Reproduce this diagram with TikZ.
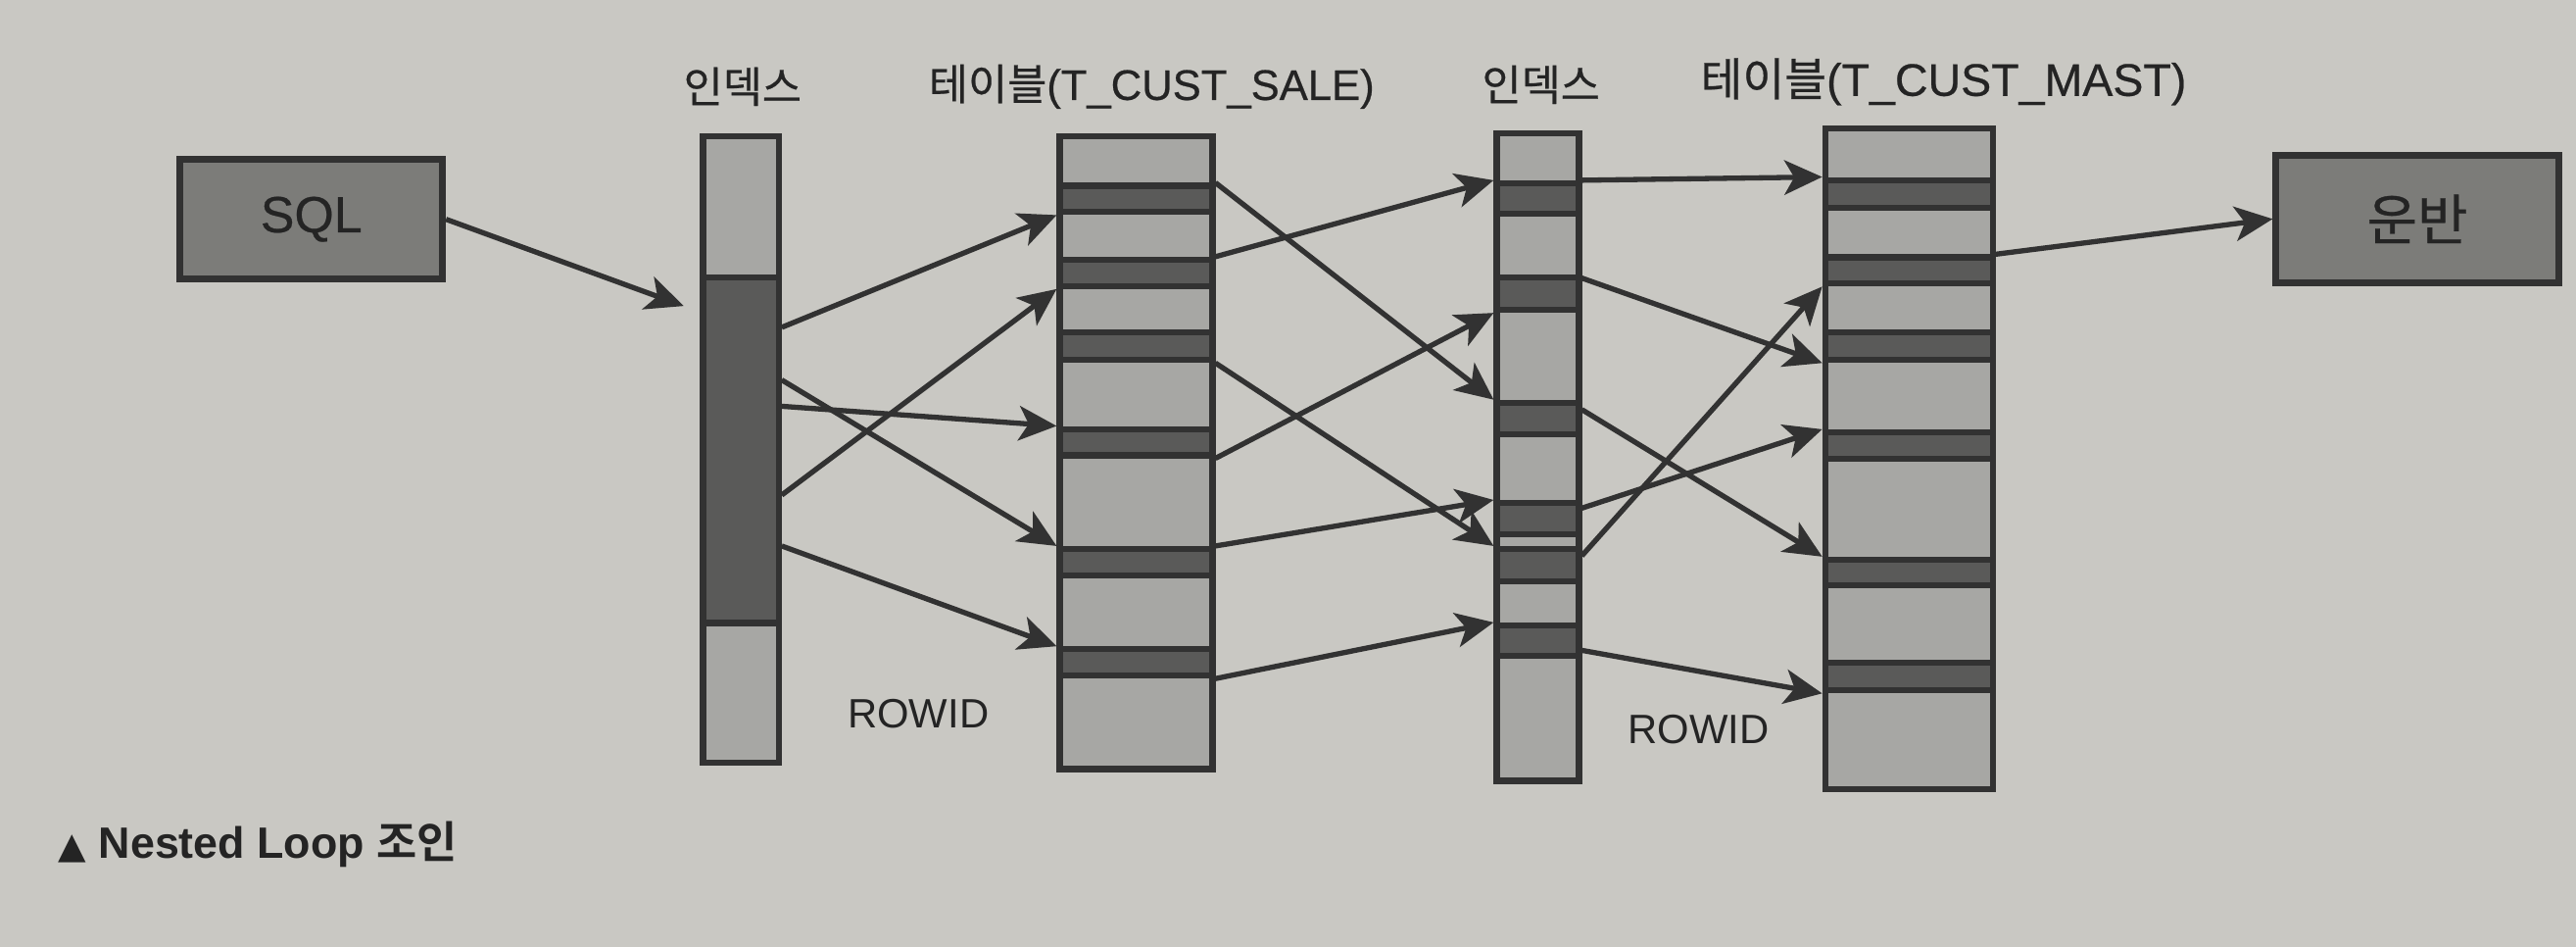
\documentclass[tikz,border=0pt]{standalone}
\usepackage{fontspec}
\setmainfont{Liberation Sans}
\newfontfamily\kr{Noto Sans CJK KR}[BoldFont={Noto Sans CJK KR Bold}]
\newfontfamily\krlab{Noto Sans CJK KR}[FakeBold=0.5]
\newfontfamily\lab{Liberation Sans}[FakeBold=0.5]
\newfontfamily\sym{DejaVu Sans}
\usetikzlibrary{arrows.meta,calc,fit}
\definecolor{paper}{RGB}{201,200,195}
\definecolor{cellgray}{RGB}{167,167,164}
\definecolor{bandgray}{RGB}{90,90,89}
\definecolor{edgegray}{RGB}{50,50,50}
\definecolor{boxgray}{RGB}{124,124,121}
\definecolor{inkgray}{RGB}{36,36,36}
\tikzset{
  col/.style={draw=edgegray,line width=1.1pt,fill=cellgray,inner sep=0pt},
  band/.style={draw=edgegray,line width=1.05pt,fill=bandgray,inner sep=0pt},
  box/.style={draw=edgegray,line width=1.15pt,fill=boxgray,inner sep=0pt,text=inkgray},
  ptr/.style={draw=edgegray,line width=0.9pt,-{Stealth[length=2.3mm,width=2.1mm,inset=0.6mm]}},
  lbl/.style={inner sep=0pt,text=inkgray},
}
% a column of rows: name, left, right, top, bottom, dark bands as top/bottom
\newcommand{\rowcol}[6]{%
  \node[col,fit={(#2,#4) (#3,#5)}] (#1) {};
  \foreach \ya/\yb [count=\k] in {#6} {
    \node[band,fit={(#2,\ya) (#3,\yb)}] (#1-\k) {};
  }
}

\begin{document}
\begin{tikzpicture}[x=0.1mm,y=-0.1mm]
  \fill[paper] (0,0) rectangle (1568,576);
  \useasboundingbox (0,0) rectangle (1568,576);

  \rowcol{ix1}{428}{474}{83}{464}{169/379}
  \rowcol{tb1}{645}{738}{83}{468}{113/129,158/174,202/219,261/277,334/350,395/411}
  \rowcol{ix2}{911}{961}{81}{475}{111.5/130,169/188.5,245/264,306/325,334/353.5,380.5/399}
  \rowcol{tb2}{1111}{1213}{78}{480}{109.5/126.5,156.5/172.5,202/219,263/279,340.5/356,403/420}

  \node[box,minimum width=16mm,minimum height=7.3mm,font=\lab\fontsize{8.8}{10}\selectfont] (sql) at (189.5,133.4) {SQL};
  \node[box,minimum width=17.2mm,minimum height=7.75mm,font=\krlab\fontsize{9.5}{11}\selectfont] (unban) at (1471.4,133.2) {운반};

  \node[lbl,font=\krlab\fontsize{7.4}{9}\selectfont] (lix1) at (452,52.7) {인덱스};
  \node[lbl,font=\lab\fontsize{7.4}{9}\selectfont] (ltb1) at (701,52.7) {{\krlab 테이블}(T\_CUST\_SALE)};
  \node[lbl,font=\krlab\fontsize{7.4}{9}\selectfont] (lix2) at (938,51.5) {인덱스};
  \node[lbl,font=\lab\fontsize{7.9}{9}\selectfont] (ltb2) at (1183,49.7) {{\krlab 테이블}(T\_CUST\_MAST)};
  \node[lbl,font=\fontsize{7.1}{9}\selectfont] (rid1) at (559,434.4) {ROWID};
  \node[lbl,font=\fontsize{7.1}{9}\selectfont] (rid2) at (1034,443.7) {ROWID};
  \node[lbl,anchor=base west,font=\bfseries\fontsize{7.6}{9}\selectfont] (cap) at (35,522.4) {{\sym\fontsize{6.3}{7}\selectfont ▲} Nested Loop {\kr 조인}};

  \draw[ptr] (sql.east) -- ($(ix1-1.north west)+(-10,19)$);
  % index -> T_CUST_SALE
  \foreach \dy/\dest in {32/tb1-1.south west,64/tb1-5.north west,80/tb1-4.north west,%
      134/tb1-2.south west,165/tb1-6.north west}
    \draw[ptr] ($(ix1-1.north east)+(0,\dy)$) -- (\dest);
  % T_CUST_SALE -> index
  \foreach \src/\dest in {tb1-1.north east/ix2-3.north west,tb1-2.north east/ix2-1.north west,%
      tb1-3.south east/ix2-5.north west,tb1-4.south east/ix2-2.south west,%
      tb1-5.north east/ix2-4.north west,tb1-6.south east/ix2-6.north west}
    \draw[ptr] (\src) -- (\dest);
  % index -> T_CUST_MAST
  \foreach \k/\dy/\dest in {1/0/tb2-1.north west,2/2/tb2-3.south west,3/6/tb2-5.north west,%
      4/5/tb2-4.north west,5/6/tb2-2.south west,6/17/tb2-6.south west}
    \draw[ptr] ($(ix2-\k.north east)+(0,\dy)$) -- (\dest);
  \draw[ptr] (tb2-2.north east) -- (unban.west);
\end{tikzpicture}
\end{document}
